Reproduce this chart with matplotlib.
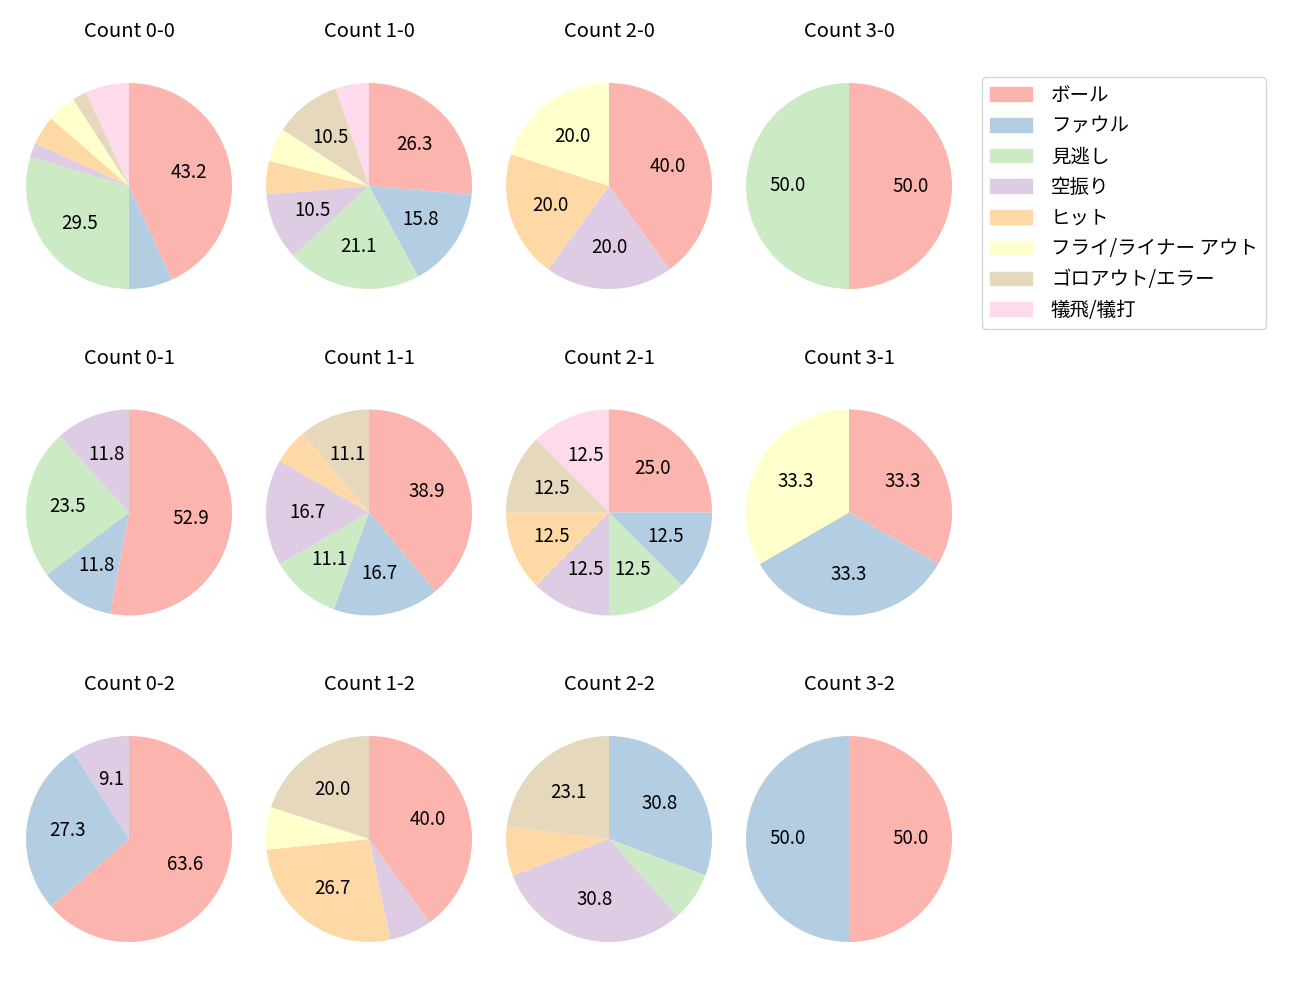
import numpy as np
import matplotlib
matplotlib.use("Agg")
import matplotlib.pyplot as plt

plt.rcParams['font.family'] = ['Noto Sans CJK JP', 'DejaVu Sans']

# outcome categories (legend order)
outcomes = ["ボール", "ファウル", "見逃し", "空振り", "ヒット",
            "フライ/ライナー アウト", "ゴロアウト/エラー", "犠飛/犠打"]

# counts per ball-strike situation, in outcome order
count_labels = ["Count 0-0", "Count 1-0", "Count 2-0", "Count 3-0",
                "Count 0-1", "Count 1-1", "Count 2-1", "Count 3-1",
                "Count 0-2", "Count 1-2", "Count 2-2", "Count 3-2"]
c00 = [19, 3, 13, 1, 2, 2, 1, 3]
c10 = [5, 3, 4, 2, 1, 1, 2, 1]
c20 = [2, 0, 0, 1, 1, 1, 0, 0]
c30 = [1, 0, 1, 0, 0, 0, 0, 0]
c01 = [9, 2, 4, 2, 0, 0, 0, 0]
c11 = [7, 3, 2, 3, 1, 0, 2, 0]
c21 = [2, 1, 1, 1, 1, 0, 1, 1]
c31 = [1, 1, 0, 0, 0, 1, 0, 0]
c02 = [7, 3, 0, 1, 0, 0, 0, 0]
c12 = [6, 0, 0, 1, 4, 1, 3, 0]
c22 = [0, 4, 1, 4, 1, 0, 3, 0]
c32 = [1, 1, 0, 0, 0, 0, 0, 0]
all_counts = [c00, c10, c20, c30, c01, c11, c21, c31, c02, c12, c22, c32]

colors = plt.cm.Pastel1(np.arange(8))

# only label wedges big enough to hold text
def show_pct(p):
    return f"{p:.1f}" if p > 8 else ""

fig = plt.figure(figsize=(13, 10), dpi=100)
W, H = 1300, 1000
r = 103
span = 1.25
box = 2 * span * r
for k, (title, vals) in enumerate(zip(count_labels, all_counts)):
    i, j = divmod(k, 4)
    cx = 129 + 240 * j
    cy = 186 + 326.5 * i
    ax = fig.add_axes([(cx - box / 2) / W, 1 - (cy + box / 2) / H, box / W, box / H])
    vals = np.array(vals, dtype=float)
    mask = vals > 0
    wedges, texts, autotexts = ax.pie(vals[mask], colors=colors[mask], startangle=90,
                                      counterclock=False, autopct=show_pct,
                                      pctdistance=0.6, textprops={'fontsize': 13.5})
    ax.set_xlim(-span, span)
    ax.set_ylim(-span, span)
    ax.set_title(title, fontsize=14.5, pad=14.5)
    if k == 3:
        handles = [plt.Rectangle((0, 0), 1, 1, color=c) for c in colors]
        ax.legend(handles, outcomes, loc='upper left', bbox_to_anchor=(1.016, 0.923),
                  borderaxespad=0, fontsize=14, handlelength=2.2, handletextpad=0.95,
                  labelspacing=0.5)

fig.savefig("out.png", dpi=100)
